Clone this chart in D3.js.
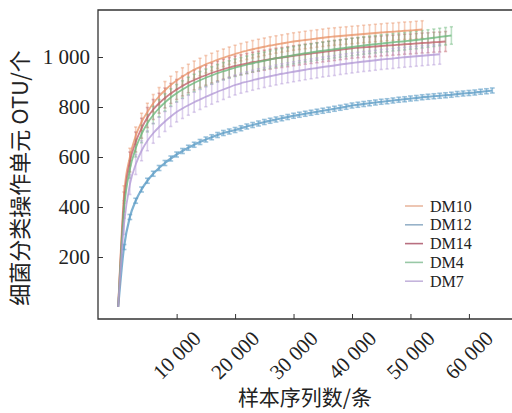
<!DOCTYPE html>
<html lang="zh">
<head>
<meta charset="utf-8">
<title>OTU rarefaction</title>
<script src="https://d3js.org/d3.v7.min.js"></script>
<style>
  body { margin: 0; background: #fff; }
  svg text { font-family: "Liberation Serif", "DejaVu Serif", serif; fill: #222; }
  .cjk { font-family: "Noto Sans CJK SC", sans-serif; }
</style>
</head>
<body>
<div id="chart"></div>
<script>
// rarefaction samples taken every 1000 reads, starting at 0
var depthStep = 1000;

var names = ["DM10", "DM12", "DM14", "DM4", "DM7"];

var dm10 = [0, 450, 600, 685, 740, 780, 815, 843, 867, 888, 906, 922, 936, 949, 960, 971, 980, 989, 997, 1005,
  1012, 1019, 1025, 1031, 1036, 1041, 1046, 1050, 1054, 1058, 1062, 1065, 1068, 1071, 1074, 1077, 1080, 1082, 1084, 1086,
  1088, 1090, 1092, 1094, 1096, 1098, 1100, 1101, 1103, 1105, 1106, 1108, 1110];

var dm12 = [0, 240, 360, 425, 470, 505, 533, 556, 576, 594, 610, 624, 637, 649, 660, 670, 679, 688, 696, 702,
  708, 715, 722, 728, 734, 740, 745, 750, 755, 760, 765, 769, 773, 777, 781, 785, 789, 793, 797, 801,
  806, 809, 812, 815, 818, 821, 823, 826, 829, 831, 834, 836, 839, 841, 843, 845, 847, 849, 852, 854,
  856, 858, 861, 863, 866];

var dm14 = [0, 420, 580, 660, 715, 758, 790, 815, 836, 854, 870, 884, 897, 908, 918, 927, 936, 944, 951, 958,
  964, 969, 974, 979, 983, 987, 991, 995, 998, 1001, 1005, 1008, 1011, 1014, 1017, 1020, 1023, 1026, 1029, 1032,
  1035, 1037, 1039, 1040, 1042, 1044, 1046, 1047, 1049, 1051, 1052, 1054, 1056, 1057, 1059, 1060, 1062];

var dm4 = [0, 390, 550, 635, 692, 735, 768, 795, 818, 838, 855, 870, 884, 896, 907, 917, 926, 935, 943, 950,
  957, 963, 969, 975, 980, 985, 990, 995, 999, 1003, 1007, 1011, 1015, 1018, 1022, 1025, 1028, 1031, 1034, 1037,
  1040, 1043, 1046, 1049, 1051, 1054, 1056, 1059, 1061, 1063, 1066, 1068, 1071, 1074, 1077, 1080, 1083, 1086];

var dm7 = [0, 330, 490, 570, 625, 665, 695, 720, 742, 762, 780, 794, 807, 819, 830, 841, 851, 861, 870, 879,
  888, 895, 901, 907, 913, 918, 923, 928, 933, 937, 941, 945, 949, 953, 956, 960, 963, 966, 970, 973,
  976, 979, 982, 984, 987, 990, 992, 994, 997, 999, 1001, 1003, 1005, 1007, 1009, 1011];

// error bar half-heights (OTU) per sample
var spread = [35, 10, 40, 35, 40];

var yTicks = [200, 400, 600, 800, 1000];
var xTicks = [10000, 20000, 30000, 40000, 50000, 60000];

var lineColors = ["#e8956a", "#5d9cc6", "#c0626b", "#6cb87c", "#b39ad6"];
var legendColors = ["#e9b8a0", "#97b2c9", "#b86f80", "#98c8a6", "#c4b4dc"];

var series = [dm10, dm12, dm14, dm4, dm7].map(function(vals, i) {
  return {
    name: names[i],
    sd: spread[i],
    points: vals.map(function(v, j) { return { d: j * depthStep, v: v }; })
  };
});

var w = 512, h = 413;
var margin = { left: 98, top: 10, right: 0, bottom: 94 };

var svg = d3.select("#chart").append("svg")
  .attr("width", w)
  .attr("height", h);

var x = d3.scaleLinear().domain([-3450, 67370]).range([margin.left, w]);
var y = d3.scaleLinear().domain([-48, 1188]).range([h - margin.bottom, margin.top]);

var line = d3.line()
  .x(function(p) { return x(p.d); })
  .y(function(p) { return y(p.v); })
  .curve(d3.curveMonotoneX);

// error bars
series.forEach(function(s, i) {
  var g = svg.append("g")
    .attr("stroke", lineColors[i])
    .attr("stroke-opacity", i === 1 ? 0.6 : 0.45)
    .attr("stroke-width", 1.6);
  var pts = s.points.filter(function(p) { return p.d > 0; });
  var cap = i === 1 ? 2.4 : 1.6;
  g.selectAll("line.bar").data(pts).enter().append("line")
    .attr("x1", function(p) { return x(p.d); })
    .attr("x2", function(p) { return x(p.d); })
    .attr("y1", function(p) { return y(p.v - s.sd); })
    .attr("y2", function(p) { return y(p.v + s.sd); });
  [-1, 1].forEach(function(k) {
    g.selectAll("line.cap" + k).data(pts).enter().append("line")
      .attr("x1", function(p) { return x(p.d) - cap; })
      .attr("x2", function(p) { return x(p.d) + cap; })
      .attr("y1", function(p) { return y(p.v + k * s.sd); })
      .attr("y2", function(p) { return y(p.v + k * s.sd); });
  });
});

// mean curves
series.forEach(function(s, i) {
  svg.append("path")
    .datum(s.points)
    .attr("fill", "none")
    .attr("stroke", lineColors[i])
    .attr("stroke-opacity", 0.8)
    .attr("stroke-width", i === 1 ? 2.2 : 1.8)
    .attr("d", line);
});

// frame (right side runs off the picture)
var frame = svg.append("g").attr("stroke", "#333").attr("stroke-width", 1.3).attr("fill", "none");
frame.append("path")
  .attr("d", "M" + w + "," + margin.top + "H" + margin.left + "V" + (h - margin.bottom) + "H" + w);

// y axis ticks (inward)
var yAxis = d3.axisRight(y).tickValues(yTicks).tickSize(5).tickFormat("");
svg.append("g").attr("transform", "translate(" + margin.left + ",0)").call(yAxis)
  .call(function(g) { g.select(".domain").remove(); g.selectAll("line").attr("stroke", "#333"); });

svg.selectAll("text.ylab").data(yTicks).enter().append("text")
  .attr("class", "ylab")
  .attr("x", margin.left - 8)
  .attr("y", function(d) { return y(d); })
  .attr("dy", "0.35em")
  .attr("text-anchor", "end")
  .attr("font-size", 21)
  .text(function(d) { return d >= 1000 ? "1 000" : d; });

// x axis ticks (inward)
var xAxis = d3.axisTop(x).tickValues(xTicks).tickSize(5).tickFormat("");
svg.append("g").attr("transform", "translate(0," + (h - margin.bottom) + ")").call(xAxis)
  .call(function(g) { g.select(".domain").remove(); g.selectAll("line").attr("stroke", "#333"); });

svg.selectAll("text.xlab").data(xTicks).enter().append("text")
  .attr("class", "xlab")
  .attr("transform", function(d) { return "translate(" + x(d) + "," + (h - margin.bottom + 36) + ") rotate(-45)"; })
  .attr("text-anchor", "middle")
  .attr("dy", "0.35em")
  .attr("font-size", 21)
  .text(function(d) { return d3.format(",")(d).replace(",", " "); });

// axis titles
svg.append("text")
  .attr("class", "cjk")
  .attr("x", 305)
  .attr("y", 405)
  .attr("text-anchor", "middle")
  .attr("font-size", 21)
  .text("样本序列数/条");

svg.append("text")
  .attr("class", "cjk")
  .attr("transform", "translate(28,178) rotate(-90)")
  .attr("text-anchor", "middle")
  .attr("font-size", 22)
  .text("细菌分类操作单元 OTU/个");

// legend
var legend = svg.append("g").attr("transform", "translate(405,206)");
names.forEach(function(n, i) {
  var row = legend.append("g").attr("transform", "translate(0," + (i * 18.8) + ")");
  row.append("line").attr("x1", 0).attr("x2", 18).attr("y1", 0).attr("y2", 0)
    .attr("stroke", legendColors[i]).attr("stroke-width", 1.6);
  row.append("text").attr("x", 25).attr("y", 0).attr("dy", "0.35em")
    .attr("font-size", 16).text(n);
});
</script>
</body>
</html>
